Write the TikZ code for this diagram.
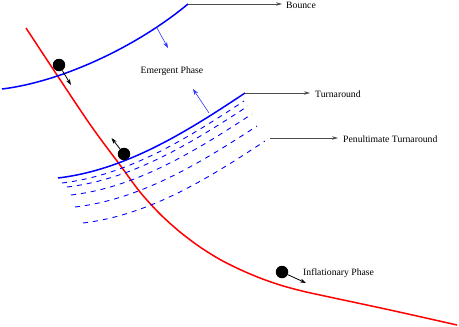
\documentclass[tikz,border=0pt]{standalone}
\usepackage{fontspec}
\setmainfont{Liberation Serif}
\usetikzlibrary{arrows.meta}
\begin{document}
\begin{tikzpicture}[x=1pt,y=-1pt,
  bluecurve/.style={blue,line width=1.5pt},
  redcurve/.style={red,line width=1.5pt},
  bluedash/.style={blue,line width=0.9pt,dash pattern=on 5pt off 5pt},
  ball/.style={circle,fill=black,inner sep=0pt,minimum size=12.5pt},
  pointer/.style={black!70,line width=0.7pt,-{Stealth[length=6pt,width=3.5pt]}},
  motion/.style={black,line width=0.8pt,-{Stealth[length=6pt,width=4pt]}},
  bluearrow/.style={blue!80,line width=0.6pt,-{Stealth[length=6pt,width=4pt]}},
  label/.style={font=\fontsize{9.7}{11}\selectfont,inner sep=0pt,anchor=west}]
\useasboundingbox (0,0) rectangle (459,327);

% red trajectory
\draw[redcurve] plot[smooth,tension=0.5] coordinates {(26,28) (87,120) (120,165) (140,192) (160,214) (180,232) (200,247) (220,259.5) (240,269.5) (260,278) (280,285) (300,290.5) (320,295) (390,310) (457,325)};

% bounce curve
\coordinate (bounceEnd) at (188,4);
\draw[bluecurve] (2,89) .. controls (60,82) and (135,48) .. (bounceEnd);

% turnaround curve
\coordinate (turnEnd) at (245,93);
\draw[bluecurve] (58,178) .. controls (125,170) and (185,133) .. (turnEnd);

% penultimate dashed curves
\draw[bluedash] (62,183) .. controls (127,175.3) and (186,139.5) .. (244,101);
\draw[bluedash] (67,187) .. controls (132,179.4) and (190,144) .. (248,106);
\draw[bluedash] (71,195) .. controls (136,187.4) and (194,152) .. (252,114);
\draw[bluedash] (75,207) .. controls (140,199.4) and (199,164) .. (257,126);
\draw[bluedash] (83,223) .. controls (148,215.3) and (207,179.5) .. (265,141);

% labels
\node[label] (bounce) at (286,5) {Bounce};
\node[label] (turn) at (315,94) {Turnaround};
\node[label] (penult) at (343,139) {Penultimate Turnaround};
\node[label] (infl) at (303,273) {Inflationary Phase};
\node[font=\fontsize{9.7}{11}\selectfont,inner sep=0pt] (emerg) at (172,71) {Emergent Phase};

% pointers
\coordinate (penStart) at (270,138);
\draw[pointer] (bounceEnd) -- ([xshift=-4pt]bounce.west |- bounceEnd);
\draw[pointer] (turnEnd) -- ([xshift=-5pt]turn.west |- turnEnd);
\draw[pointer] (penStart) -- ([xshift=-5pt]penult.west |- penStart);

% blue normal arrows
\coordinate (bA1) at (157,28);
\coordinate (bA2) at (168,48);
\draw[bluearrow] (bA1) -- (bA2);
\coordinate (tA1) at (209,113);
\coordinate (tA2) at (193,89);
\draw[bluearrow] (tA1) -- (tA2);

% balls
\node[ball] (b1) at (59,65) {};
\node[ball] (b2) at (124,154) {};
\node[ball] (b3) at (282,272) {};
\coordinate (m1) at (71,85);
\coordinate (m2) at (111.5,138);
\coordinate (m3) at (306,283);
\draw[motion] (b1) -- (m1);
\draw[motion] (b2) -- (m2);
\draw[motion] (b3) -- (m3);
\end{tikzpicture}
\end{document}
